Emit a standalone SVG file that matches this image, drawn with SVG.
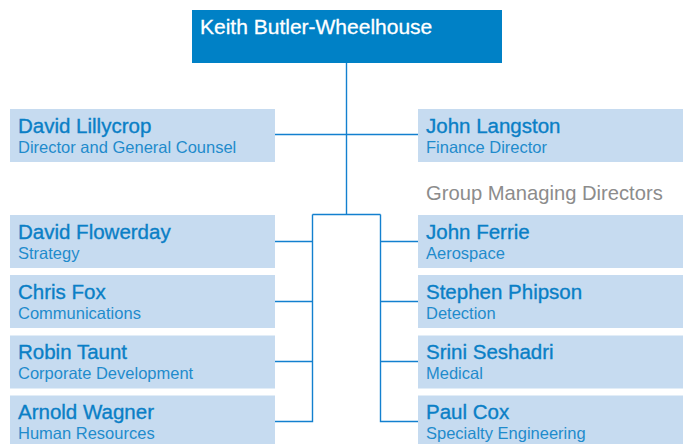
<svg xmlns="http://www.w3.org/2000/svg" width="683" height="444" viewBox="0 0 683 444">
  <style>
    .box { fill: #c6dbf0; }
    .name { font-family: "Liberation Sans", Arial, sans-serif; font-size: 20.5px; fill: #0a7fc6; stroke: #0a7fc6; stroke-width: 0.35; }
    .role { font-family: "Liberation Sans", Arial, sans-serif; font-size: 16.5px; fill: #1f8bcc; }
    .head { font-family: "Liberation Sans", Arial, sans-serif; font-size: 21px; fill: #ffffff; stroke: #ffffff; stroke-width: 0.3; }
    .caption { font-family: "Liberation Sans", Arial, sans-serif; font-size: 20.2px; fill: #8c8c8c; }
    .wire { fill: none; stroke: #1380cf; stroke-width: 1.4; }
  </style>

  <!-- connectors -->
  <g id="connectors" class="wire">
    <path d="M346.5 63 V214.5"/>
    <path d="M275 134.5 H418"/>
    <path d="M312.5 214.5 H380.5"/>
    <path d="M312.5 214.5 V421.5 H275 M312.5 241.5 H275 M312.5 301.5 H275 M312.5 361.5 H275"/>
    <path d="M380.5 214.5 V421.5 H418 M380.5 241.5 H418 M380.5 301.5 H418 M380.5 361.5 H418"/>
  </g>

  <g id="ceo">
    <rect x="192" y="10" width="310" height="53" fill="#0081c6"/>
    <text class="head" x="200" y="34">Keith Butler-Wheelhouse</text>
  </g>

  <g id="lillycrop">
    <rect class="box" x="10" y="109" width="265" height="53"/>
    <text class="name" x="18" y="133">David Lillycrop</text>
    <text class="role" x="18" y="153">Director and General Counsel</text>
  </g>
  <g id="langston">
    <rect class="box" x="418" y="109" width="265" height="53"/>
    <text class="name" x="426" y="133">John Langston</text>
    <text class="role" x="426" y="153">Finance Director</text>
  </g>

  <text class="caption" x="426" y="200">Group Managing Directors</text>

  <g id="flowerday">
    <rect class="box" x="10" y="215" width="265" height="53"/>
    <text class="name" x="18" y="238.5">David Flowerday</text>
    <text class="role" x="18" y="258.5">Strategy</text>
  </g>
  <g id="fox">
    <rect class="box" x="10" y="275" width="265" height="53"/>
    <text class="name" x="18" y="298.5">Chris Fox</text>
    <text class="role" x="18" y="318.5">Communications</text>
  </g>
  <g id="taunt">
    <rect class="box" x="10" y="335.5" width="265" height="53"/>
    <text class="name" x="18" y="359">Robin Taunt</text>
    <text class="role" x="18" y="379">Corporate Development</text>
  </g>
  <g id="wagner">
    <rect class="box" x="10" y="395.5" width="265" height="53"/>
    <text class="name" x="18" y="419">Arnold Wagner</text>
    <text class="role" x="18" y="439">Human Resources</text>
  </g>

  <g id="ferrie">
    <rect class="box" x="418" y="215" width="265" height="53"/>
    <text class="name" x="426" y="238.5">John Ferrie</text>
    <text class="role" x="426" y="258.5">Aerospace</text>
  </g>
  <g id="phipson">
    <rect class="box" x="418" y="275" width="265" height="53"/>
    <text class="name" x="426" y="298.5">Stephen Phipson</text>
    <text class="role" x="426" y="318.5">Detection</text>
  </g>
  <g id="seshadri">
    <rect class="box" x="418" y="335.5" width="265" height="53"/>
    <text class="name" x="426" y="359">Srini Seshadri</text>
    <text class="role" x="426" y="379">Medical</text>
  </g>
  <g id="cox">
    <rect class="box" x="418" y="395.5" width="265" height="53"/>
    <text class="name" x="426" y="419">Paul Cox</text>
    <text class="role" x="426" y="439">Specialty Engineering</text>
  </g>
</svg>
